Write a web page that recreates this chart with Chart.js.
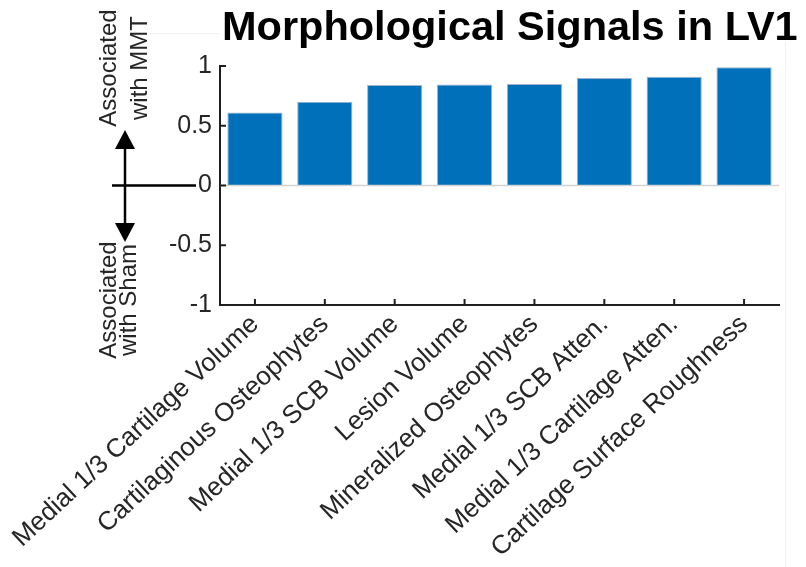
<!DOCTYPE html>
<html>
<head>
<meta charset="utf-8">
<title>Morphological Signals in LV1</title>
<script src="https://cdn.jsdelivr.net/npm/chart.js@4/dist/chart.umd.min.js"></script>
<style>
  html, body { margin: 0; padding: 0; background: #ffffff; }
  #wrap { width: 806px; height: 567px; position: relative; }
</style>
</head>
<body>
<div id="wrap"><canvas id="chart" width="806" height="567"></canvas></div>
<script>
// Morphological measures, ordered by loading on LV1
const categories = [
  'Medial 1/3 Cartilage Volume',
  'Cartilaginous Osteophytes',
  'Medial 1/3 SCB Volume',
  'Lesion Volume',
  'Mineralized Osteophytes',
  'Medial 1/3 SCB Atten.',
  'Medial 1/3 Cartilage Atten.',
  'Cartilage Surface Roughness'
];
const loadings = [0.61, 0.70, 0.84, 0.845, 0.85, 0.90, 0.91, 0.99];
const yTicks = [-1, -0.5, 0, 0.5, 1];

const FONT = '"Liberation Sans", Arial, Helvetica, sans-serif';
const INK = '#1f1f1f';
const BAR_BLUE = '#0070BA';

// Inward tick marks, baseline and axis annotations
const decorations = {
  id: 'decorations',
  afterDatasetsDraw(chart) {
    const { ctx, scales: { y }, chartArea } = chart;
    ctx.save();
    // gray baseline at zero, over the bars
    const y0 = y.getPixelForValue(0);
    ctx.strokeStyle = '#d2d2d2';
    ctx.lineWidth = 1.5;
    ctx.beginPath();
    ctx.moveTo(chartArea.left, y0);
    ctx.lineTo(chartArea.right, y0);
    ctx.stroke();
    ctx.restore();
  },
  afterDraw(chart) {
    const { ctx, scales: { x, y }, chartArea } = chart;
    ctx.save();

    // faint figure frame
    ctx.strokeStyle = '#f1f1f1';
    ctx.lineWidth = 1;
    ctx.beginPath();
    ctx.moveTo(150, 33.5);
    ctx.lineTo(785.5, 33.5);
    ctx.lineTo(785.5, 567);
    ctx.stroke();

    // tick marks pointing into the plot
    ctx.strokeStyle = INK;
    ctx.lineWidth = 2;
    ctx.beginPath();
    yTicks.forEach(v => {
      const py = y.getPixelForValue(v);
      ctx.moveTo(chartArea.left, py);
      ctx.lineTo(chartArea.left + 6, py);
    });
    categories.forEach((c, i) => {
      const px = x.getPixelForValue(i);
      ctx.moveTo(px, chartArea.bottom);
      ctx.lineTo(px, chartArea.bottom - 6);
    });
    ctx.stroke();

    // title
    ctx.font = 'bold 41.5px ' + FONT;
    ctx.textAlign = 'left';
    ctx.textBaseline = 'alphabetic';
    const title = 'Morphological Signals in LV1';
    const tw = ctx.measureText(title).width;
    ctx.fillStyle = '#ffffff';
    ctx.fillRect(219, 6, tw + 8, 36);
    ctx.fillStyle = '#000000';
    ctx.fillText(title, 222, 40);

    // direction annotation: horizontal rule at zero and a double arrow
    const y0 = y.getPixelForValue(0);
    ctx.strokeStyle = '#000000';
    ctx.fillStyle = '#000000';
    ctx.lineWidth = 2.5;
    ctx.beginPath();
    ctx.moveTo(112, y0);
    ctx.lineTo(196, y0);
    ctx.moveTo(125, 146);
    ctx.lineTo(125, 226);
    ctx.stroke();
    ctx.beginPath();
    ctx.moveTo(125, 130);
    ctx.lineTo(135, 149);
    ctx.lineTo(115, 149);
    ctx.closePath();
    ctx.fill();
    ctx.beginPath();
    ctx.moveTo(125, 242);
    ctx.lineTo(135, 223);
    ctx.lineTo(115, 223);
    ctx.closePath();
    ctx.fill();

    // rotated annotation text
    ctx.font = '24px ' + FONT;
    ctx.fillStyle = '#262626';
    ctx.textAlign = 'center';
    ctx.textBaseline = 'alphabetic';
    const vtext = (txt, cx, cy) => {
      ctx.save();
      ctx.translate(cx, cy);
      ctx.rotate(-Math.PI / 2);
      ctx.fillText(txt, 0, 0);
      ctx.restore();
    };
    vtext('Associated', 116, 68);
    vtext('with MMT', 147, 68);
    vtext('Associated', 116, 300);
    vtext('with Sham', 136, 300);

    ctx.restore();
  }
};

new Chart(document.getElementById('chart'), {
  type: 'bar',
  data: {
    labels: categories,
    datasets: [{
      data: loadings,
      backgroundColor: BAR_BLUE,
      borderColor: 'rgba(150,170,200,0.9)',
      borderWidth: 1,
      borderSkipped: 'bottom',
      categoryPercentage: 1,
      barPercentage: 0.79
    }]
  },
  options: {
    responsive: false,
    animation: false,
    events: [],
    layout: { padding: { top: 66, right: 27, left: 0, bottom: 0 } },
    plugins: { legend: { display: false }, tooltip: { enabled: false }, title: { display: false } },
    scales: {
      x: {
        type: 'category',
        offset: true,
        grid: { display: false, drawTicks: false },
        border: { display: true, color: INK, width: 2 },
        ticks: {
          autoSkip: false,
          minRotation: 43,
          maxRotation: 43,
          padding: 4,
          color: '#262626',
          font: { family: FONT, size: 26 }
        },
        afterFit(scale) {
          scale.height = 262;
          scale.paddingLeft = 0;
          scale.paddingRight = 0;
        }
      },
      y: {
        min: -1,
        max: 1,
        grid: { display: false, drawTicks: false },
        border: { display: true, color: INK, width: 2 },
        afterBuildTicks(scale) { scale.ticks = yTicks.map(v => ({ value: v })); },
        ticks: {
          padding: 8,
          color: '#262626',
          font: { family: FONT, size: 25 },
          callback: v => String(v)
        },
        afterFit(scale) { scale.width = 220; }
      }
    }
  },
  plugins: [decorations]
});
</script>
</body>
</html>
